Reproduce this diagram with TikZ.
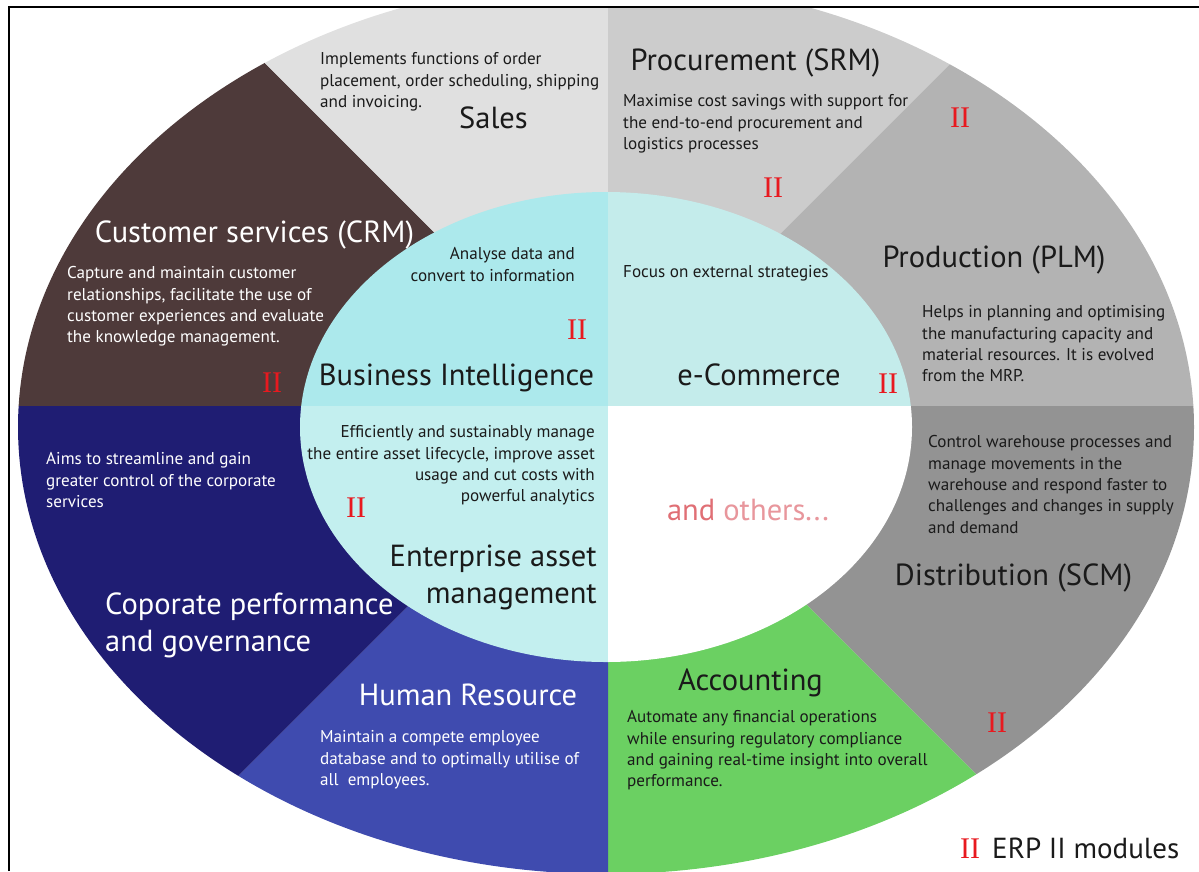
\documentclass[tikz,border=0pt]{standalone}
\usepackage{fontspec}
\setmainfont{PT Sans}
\newfontfamily\romanII{Liberation Serif}

% sector colours
\definecolor{crmbrown}{RGB}{78,58,58}
\definecolor{salesgray}{RGB}{224,224,224}
\definecolor{srmgray}{RGB}{204,204,204}
\definecolor{plmgray}{RGB}{179,179,179}
\definecolor{scmgray}{RGB}{147,147,147}
\definecolor{accgreen}{RGB}{107,208,98}
\definecolor{hrblue}{RGB}{63,75,175}
\definecolor{cpgnavy}{RGB}{31,29,115}
\definecolor{bicyan}{RGB}{172,233,236}
\definecolor{ecomcyan}{RGB}{196,236,235}
\definecolor{eamcyan}{RGB}{195,239,239}
\definecolor{erpred}{RGB}{232,25,31}
\definecolor{othersred}{RGB}{224,111,117}
\definecolor{otherslight}{RGB}{232,150,156}
\definecolor{inkdark}{RGB}{26,26,26}

\newcommand\titlefont{\fontsize{30.5}{37}\selectfont}
\newcommand\descfont{\fontsize{17.1}{21.3}\selectfont}

\begin{document}
\begin{tikzpicture}[x=1pt,y=-1pt,
  title/.style={font=\titlefont, inner sep=0, anchor=base, text=inkdark},
  desc/.style={font=\descfont, inner sep=0, align=left, anchor=north west, text=inkdark},
  descr/.style={desc, align=right, anchor=north east},
  erpmark/.style={font=\romanII\fontsize{30}{30}\selectfont, text=erpred, inner sep=0, anchor=base west},
  ondark/.style={text=white}]
\useasboundingbox (0,0) rectangle (1199,871);

\coordinate (hub) at (608,406);
\coordinate (oc) at (606,427);

% outer ring, eight sectors split at 45 degree steps around the hub
\begin{scope}
  \clip (9,7) rectangle (1199,871);
  \clip (oc) ellipse [x radius=588, y radius=447];
  \fill[crmbrown]  (hub) -- +(-900,0)    -- +(-900,-900) -- cycle;
  \fill[salesgray] (hub) -- +(-900,-900) -- +(0,-900)    -- cycle;
  \fill[srmgray]   (hub) -- +(0,-900)    -- +(900,-900)  -- cycle;
  \fill[plmgray]   (hub) -- +(900,-900)  -- +(900,0)     -- cycle;
  \fill[scmgray]   (hub) -- +(900,0)     -- +(900,900)   -- cycle;
  \fill[accgreen]  (hub) -- +(900,900)   -- +(0,900)     -- cycle;
  \fill[hrblue]    (hub) -- +(0,900)     -- +(-900,900)  -- cycle;
  \fill[cpgnavy]   (hub) -- +(-900,900)  -- +(-900,0)    -- cycle;
\end{scope}

% inner ellipse, four quadrants
\begin{scope}
  \clip (oc) ellipse [x radius=306, y radius=235];
  \fill[bicyan]   (hub) rectangle +(-400,-400);
  \fill[ecomcyan] (hub) rectangle +(400,-400);
  \fill[eamcyan]  (hub) rectangle +(-400,400);
  \fill[white]    (hub) rectangle +(400,400);
\end{scope}

% frame
\draw[line width=2pt] (8.5,871) -- (8.5,6.5) -- (1199,6.5);

% Sales
\node[desc] (salesdesc) at (320,52.5) {Implements functions of order\\placement, order scheduling, shipping\\and invoicing.};
\node[title] (sales) at (493.5,128) {Sales};

% Procurement
\node[title] (srm) at (755.5,70) {Procurement (SRM)};
\node[desc] (srmdesc) at (623,94.5) {Maximise cost savings with support for\\the end-to-end procurement and\\logistics processes};
\node[erpmark] (srmii) at (763,197) {II};

% Production
\node[erpmark] (plmii) at (950,127) {II};
\node[title] (plm) at (994,267) {Production (PLM)};
\node[desc] (plmdesc) at (922,305.5) {Helps in planning and optimising\\the manufacturing capacity and\\material resources. It is evolved\\from the MRP.};

% Customer services
\node[title, ondark] (crm) at (254.5,242) {Customer services (CRM)};
\node[desc, ondark] (crmdesc) at (67,266.5) {Capture and maintain customer\\relationships, facilitate the use of\\customer experiences and evaluate\\the knowledge management.};
\node[erpmark] (crmii) at (262,392) {II};

% Business Intelligence
\node[descr] (bidesc) at (575,247.5) {Analyse data and\\convert to information};
\node[erpmark] (biii) at (567,339) {II};
\node[title] (bi) at (456.5,385) {Business Intelligence};

% e-Commerce
\node[desc] (ecomdesc) at (623,265.5) {Focus on external strategies};
\node[title] (ecom) at (759,385) {e-Commerce};
\node[erpmark] (ecomii) at (878,393) {II};

% Enterprise asset management
\node[descr] (eamdesc) at (595,425.5) {Efficiently and sustainably manage\\the entire asset lifecycle, improve asset\\usage and cut costs with\\powerful analytics};
\node[erpmark] (eamii) at (346,517) {II};
\node[title, align=right, anchor=north east] (eam) at (597,545) {Enterprise asset\\management};

% others
\node[title] (others) at (748,520) {\textcolor{othersred}{and} \textcolor{otherslight}{others...}};

% Distribution
\node[desc] (scmdesc) at (928,435.5) {Control warehouse processes and\\manage movements in the\\warehouse and respond faster to\\challenges and changes in supply\\and demand};
\node[title] (scm) at (1013.5,585) {Distribution (SCM)};
\node[erpmark] (scmii) at (987,732) {II};

% Corporate performance
\node[desc, ondark] (cpgdesc) at (46,452.5) {Aims to streamline and gain\\greater control of the corporate\\services};
\node[title, ondark, align=left, anchor=north west] (cpg) at (105,593) {Coporate performance\\and governance};

% Human resource
\node[title, ondark] (hr) at (468,705) {Human Resource};
\node[desc, ondark] (hrdesc) at (320,730.5) {Maintain a compete employee\\database and to optimally utilise of\\all~ employees.};

% Accounting
\node[title] (acc) at (750.5,690) {Accounting};
\node[desc] (accdesc) at (627,710.5) {Automate any financial operations\\while ensuring regulatory compliance\\and gaining real-time insight into overall\\performance.};

% legend
\node[erpmark] (legii) at (960,858) {II};
\node[title, anchor=base west, font=\fontsize{29}{35}\selectfont] (legend) at (992,858) {ERP II modules};
\end{tikzpicture}
\end{document}
